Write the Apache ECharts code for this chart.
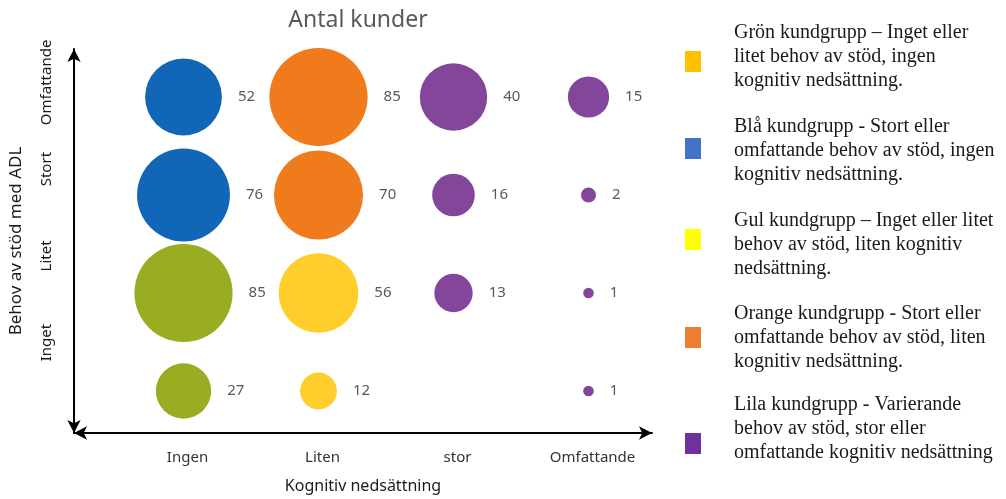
<!DOCTYPE html>
<html>
<head>
<meta charset="utf-8" />
<title>Antal kunder</title>
<script src="https://cdn.jsdelivr.net/npm/echarts@6/dist/echarts.min.js"></script>
<style>
  html, body { margin: 0; padding: 0; background: #fff; }
  #chart { width: 1006px; height: 499px; }
</style>
</head>
<body>
<div id="chart"></div>
<script>
  // kategorier
  var xCategories = ['Ingen', 'Liten', 'stor', 'Omfattande'];
  var yCategories = ['Inget', 'Litet', 'Stort', 'Omfattande'];

  // [kognitiv nedsättning, behov av stöd, antal kunder]
  var blueData = [['Ingen', 'Omfattande', 52], ['Ingen', 'Stort', 76]];
  var orangeData = [['Liten', 'Omfattande', 85], ['Liten', 'Stort', 70]];
  var greenData = [['Ingen', 'Litet', 85], ['Ingen', 'Inget', 27]];
  var yellowData = [['Liten', 'Litet', 56], ['Liten', 'Inget', 12]];
  var purpleData = [
    ['stor', 'Omfattande', 40], ['Omfattande', 'Omfattande', 15],
    ['stor', 'Stort', 16], ['Omfattande', 'Stort', 2],
    ['stor', 'Litet', 13], ['Omfattande', 'Litet', 1],
    ['Omfattande', 'Inget', 1]
  ];

  var legendTexts = [
    'Grön kundgrupp – Inget eller\nlitet behov av stöd, ingen\nkognitiv nedsättning.',
    'Blå kundgrupp - Stort eller\nomfattande behov av stöd, ingen\nkognitiv nedsättning.',
    'Gul kundgrupp – Inget eller litet\nbehov av stöd, liten kognitiv\nnedsättning.',
    'Orange kundgrupp - Stort eller\nomfattande behov av stöd, liten\nkognitiv nedsättning.',
    'Lila kundgrupp - Varierande\nbehov av stöd, stor eller\nomfattande kognitiv nedsättning'
  ];
  var legendColors = ['#FFC000', '#4472C4', '#FFFF00', '#ED7D31', '#7030A0'];

  var sansFont = '"Noto Sans", "Open Sans", sans-serif';

  function bubble(name, data, color) {
    return {
      name: name,
      type: 'scatter',
      xAxisIndex: 0,
      yAxisIndex: 0,
      data: data,
      symbolSize: function (val) { return 10.65 * Math.sqrt(val[2]); },
      itemStyle: { color: color, opacity: 1 },
      label: {
        show: true,
        position: 'right',
        distance: 16,
        color: '#595959',
        fontFamily: sansFont,
        fontSize: 15,
        formatter: function (p) { return p.value[2]; }
      },
      emphasis: { disabled: true }
    };
  }

  // legend till höger (rutor + text)
  var legendTops = [21, 115, 209, 302, 393];
  var squareTops = [51, 138, 229, 327, 433];
  var graphics = [];
  for (var i = 0; i < legendTexts.length; i++) {
    graphics.push({
      type: 'rect',
      left: 685,
      top: squareTops[i],
      shape: { width: 16, height: 21 },
      style: { fill: legendColors[i] }
    });
    graphics.push({
      type: 'text',
      left: 734,
      top: legendTops[i],
      style: {
        text: legendTexts[i],
        fill: '#1a1a1a',
        font: '20px "Liberation Serif", "DejaVu Serif", serif',
        lineHeight: 24
      }
    });
  }

  var chart = echarts.init(document.getElementById('chart'));

  var option = {
    animation: false,
    title: {
      text: 'Antal kunder',
      left: 353,
      top: 4,
      textAlign: 'center',
      textStyle: { color: '#595959', fontFamily: sansFont, fontSize: 23, fontWeight: 'normal' }
    },
    grid: [
      // bubblor
      { left: 116, width: 540, top: 48, height: 392 },
      // pilaxlar
      { left: 73, width: 579, top: 49, height: 393 },
      // etiketter på y-axeln
      { left: 73, width: 573, top: 39, height: 347 }
    ],
    xAxis: [
      {
        type: 'category',
        gridIndex: 0,
        data: xCategories,
        axisLine: { show: false },
        axisTick: { show: false },
        splitLine: { show: false },
        axisLabel: {
          color: '#333', fontFamily: sansFont, fontSize: 15,
          margin: 10, padding: [0, 0, 0, 8]
        }
      },
      {
        type: 'value',
        gridIndex: 1,
        min: 0, max: 1,
        name: 'Kognitiv nedsättning',
        nameLocation: 'middle',
        nameGap: 45,
        nameTextStyle: { color: '#1a1a1a', fontFamily: sansFont, fontSize: 16 },
        axisLine: {
          show: true,
          symbol: ['arrow', 'arrow'],
          symbolSize: [10, 13],
          lineStyle: { color: '#000', width: 2 }
        },
        axisTick: { show: false },
        axisLabel: { show: false },
        splitLine: { show: false }
      },
      {
        type: 'value', gridIndex: 2, show: false
      }
    ],
    yAxis: [
      {
        type: 'category',
        gridIndex: 0,
        data: yCategories,
        axisLine: { show: false },
        axisTick: { show: false },
        axisLabel: { show: false },
        splitLine: { show: false }
      },
      {
        type: 'value',
        gridIndex: 1,
        min: 0, max: 1,
        offset: 4,
        name: 'Behov av stöd med ADL',
        nameLocation: 'middle',
        nameRotate: 90,
        nameGap: 45,
        nameTextStyle: { color: '#1a1a1a', fontFamily: sansFont, fontSize: 17 },
        axisLine: {
          show: true,
          symbol: ['arrow', 'arrow'],
          symbolSize: [10, 13],
          lineStyle: { color: '#000', width: 2 }
        },
        axisTick: { show: false },
        axisLabel: { show: false },
        splitLine: { show: false }
      },
      {
        type: 'category',
        gridIndex: 2,
        data: yCategories,
        axisLine: { show: false },
        axisTick: { show: false },
        splitLine: { show: false },
        axisLabel: {
          interval: 0,
          rotate: 90,
          color: '#1a1a1a', fontFamily: sansFont, fontSize: 15,
          margin: 19
        }
      }
    ],
    series: [
      bubble('Blå', blueData, '#1166B8'),
      bubble('Orange', orangeData, '#F07B1C'),
      bubble('Grön', greenData, '#9AAD22'),
      bubble('Gul', yellowData, '#FFCE2C'),
      bubble('Lila', purpleData, '#84469B')
    ],
    graphic: graphics
  };

  chart.setOption(option);
</script>
</body>
</html>
